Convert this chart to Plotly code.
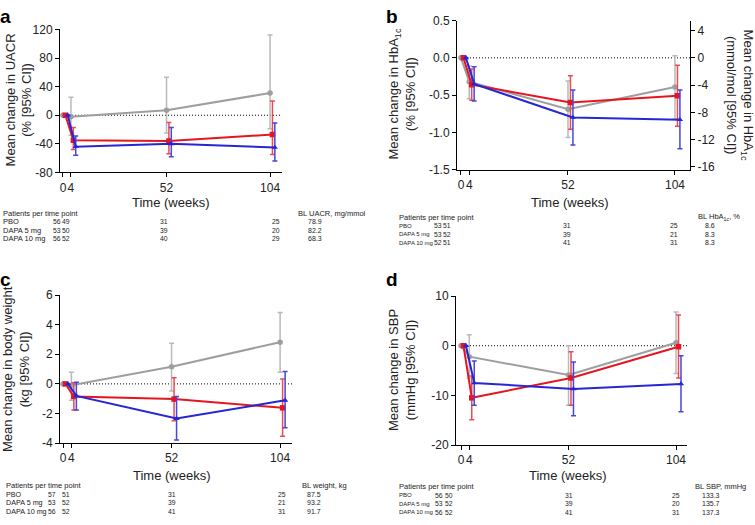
import plotly.graph_objects as go

W, H = 755, 525
FONT = "Liberation Sans, Arial, sans-serif"

weeks = [0, 4, 52, 104]
tick_labels = ["0", "4", "52", "104"]
group_names = ["PBO", "DAPA 5 mg", "DAPA 10 mg"]

# ---- Panel a: UACR (% change) ----
uacr_pbo = [0, -2, 7, 31]
uacr_pbo_lo = [None, -28, -25, -19]
uacr_pbo_hi = [None, 25, 53, 112]
uacr_d5 = [0, -35, -36, -27]
uacr_d5_lo = [None, -48, -54, -55]
uacr_d5_hi = [None, -17, -10, 20]
uacr_d10 = [0, -44, -40, -45]
uacr_d10_lo = [None, -56, -58, -64]
uacr_d10_hi = [None, -29, -17, -11]

# ---- Panel b: HbA1c (%) ----
hba_pbo = [0, -0.32, -0.69, -0.39]
hba_pbo_lo = [None, -0.55, -1.07, -0.82]
hba_pbo_hi = [None, -0.11, -0.31, 0.03]
hba_d5 = [0, -0.36, -0.60, -0.51]
hba_d5_lo = [None, -0.57, -0.96, -0.92]
hba_d5_hi = [None, -0.15, -0.24, -0.10]
hba_d10 = [0, -0.35, -0.80, -0.83]
hba_d10_lo = [None, -0.58, -1.17, -1.22]
hba_d10_hi = [None, -0.12, -0.43, -0.43]
mmol_per_pct = 10.93
mmol_ticks = [-16, -12, -8, -4, 0, 4]

# ---- Panel c: body weight (kg) ----
bw_pbo = [0, -0.09, 1.16, 2.82]
bw_pbo_lo = [None, -1.1, -0.48, 0.79]
bw_pbo_hi = [None, 0.79, 2.75, 4.83]
bw_d5 = [0, -0.85, -1.03, -1.62]
bw_d5_lo = [None, -1.77, -2.49, -3.54]
bw_d5_hi = [None, 0.07, 0.41, 0.33]
bw_d10 = [0, -0.81, -2.34, -1.11]
bw_d10_lo = [None, -1.77, -3.8, -2.97]
bw_d10_hi = [None, 0.11, -0.85, 0.83]

# ---- Panel d: SBP (mmHg) ----
sbp_pbo = [0, -2.2, -5.9, 0.6]
sbp_pbo_lo = [None, -6.5, -12.0, -5.6]
sbp_pbo_hi = [None, 2.2, 0.0, 6.8]
sbp_d5 = [0, -10.5, -6.5, -0.2]
sbp_d5_lo = [None, -14.9, -12.0, -6.5]
sbp_d5_hi = [None, -6.1, -1.2, 6.2]
sbp_d10 = [0, -7.5, -8.7, -7.7]
sbp_d10_lo = [None, -12.0, -14.1, -13.3]
sbp_d10_hi = [None, -3.1, -3.3, -2.0]

# ---- Patients per time point tables ----
n_uacr_pbo = [56, 49, 31, 25]
n_uacr_d5 = [53, 50, 39, 20]
n_uacr_d10 = [56, 52, 40, 29]
bl_uacr = ["78.9", "82.2", "68.3"]

n_hba_pbo = [53, 51, 31, 25]
n_hba_d5 = [53, 52, 39, 21]
n_hba_d10 = [52, 51, 41, 31]
bl_hba = ["8.6", "8.3", "8.3"]

n_bw_pbo = [57, 51, 31, 25]
n_bw_d5 = [53, 52, 39, 21]
n_bw_d10 = [56, 52, 41, 31]
bl_bw = ["87.5", "93.2", "91.7"]

n_sbp_pbo = [56, 50, 31, 25]
n_sbp_d5 = [53, 52, 39, 20]
n_sbp_d10 = [56, 52, 41, 31]
bl_sbp = ["133.3", "135.7", "137.3"]

# ---- styles ----
styles = {
    "PBO": dict(color="rgb(158,158,158)", err="rgb(185,185,185)", symbol="circle", off=0.0),
    "DAPA 5 mg": dict(color="rgb(230,22,32)", err="rgb(236,75,85)", symbol="square", off=1.2),
    "DAPA 10 mg": dict(color="rgb(38,38,212)", err="rgb(70,70,222)", symbol="triangle-up", off=2.4),
}


def px_x(p):
    return p / W


def px_y(p):
    return 1 - p / H


fig = go.Figure()


def add_series(name, mean, lo, hi, xa, ya):
    s = styles[name]
    up = [None if h is None else h - m for m, h in zip(mean, hi)]
    dn = [None if l is None else m - l for m, l in zip(mean, lo)]
    fig.add_trace(go.Scatter(
        x=[w + s["off"] for w in weeks], y=mean, name=name, xaxis=xa, yaxis=ya,
        mode="lines+markers", showlegend=False,
        line=dict(color=s["color"], width=2),
        marker=dict(color=s["color"], symbol=s["symbol"], size=5.5),
        error_y=dict(type="data", array=up, arrayminus=dn, symmetric=False,
                     color=s["err"], thickness=1.5, width=2.5),
    ))


panels = [
    ("x", "y", [(uacr_pbo, uacr_pbo_lo, uacr_pbo_hi), (uacr_d5, uacr_d5_lo, uacr_d5_hi), (uacr_d10, uacr_d10_lo, uacr_d10_hi)]),
    ("x2", "y2", [(hba_pbo, hba_pbo_lo, hba_pbo_hi), (hba_d5, hba_d5_lo, hba_d5_hi), (hba_d10, hba_d10_lo, hba_d10_hi)]),
    ("x3", "y3", [(bw_pbo, bw_pbo_lo, bw_pbo_hi), (bw_d5, bw_d5_lo, bw_d5_hi), (bw_d10, bw_d10_lo, bw_d10_hi)]),
    ("x4", "y4", [(sbp_pbo, sbp_pbo_lo, sbp_pbo_hi), (sbp_d5, sbp_d5_lo, sbp_d5_hi), (sbp_d10, sbp_d10_lo, sbp_d10_hi)]),
]

for xa, ya, ser in panels:
    for name, (m, lo, hi) in zip(group_names, ser):
        add_series(name, m, lo, hi, xa, ya)

# invisible trace so the mmol/mol secondary axis is drawn (same data, converted units)
fig.add_trace(go.Scatter(x=weeks, y=[v * mmol_per_pct for v in hba_pbo], xaxis="x2", yaxis="y5",
                         mode="markers", marker=dict(opacity=0), hoverinfo="skip",
                         showlegend=False))

axis_common = dict(showline=True, linecolor="black", linewidth=1, ticks="outside",
                   ticklen=4, tickwidth=1, tickcolor="black", showgrid=False,
                   zeroline=False, tickfont=dict(family=FONT, size=12, color="#222"),
                   fixedrange=True, tickangle=0)

# pixel geometry of the four panels: (x_left, x_right, y_top, y_bottom, xrange, yrange, yticks)
geo = {
    "a": (60, 282, 23, 170, [-1.5, 110], [-80, 120], [-80, -40, 0, 40, 80, 120]),
    "b": (457, 690, 14, 167, [-1.94, 111.3], [-1.5, 0.5], [-1.5, -1.0, -0.5, 0.0, 0.5]),
    "c": (60, 292, 296, 448, [-1.44, 109.7], [-4, 6], [-4, -2, 0, 2, 4, 6]),
    "d": (456, 687, 297, 450, [-2.42, 109.3], [-20, 10], [-20, -10, 0, 10]),
}
names = {"a": ("xaxis", "yaxis", "x", "y"), "b": ("xaxis2", "yaxis2", "x2", "y2"),
         "c": ("xaxis3", "yaxis3", "x3", "y3"), "d": ("xaxis4", "yaxis4", "x4", "y4")}

layout_axes = {}
shapes = []
for k, (xl, xr, yt, yb, xr_, yr_, yt_vals) in geo.items():
    xn, yn, xref, yref = names[k]
    layout_axes[xn] = dict(axis_common, domain=[px_x(xl), px_x(xr)], range=xr_,
                           tickvals=weeks, ticktext=tick_labels, anchor=yref)
    ytext = [f"{v:.1f}" for v in yt_vals] if k == "b" else [str(v) for v in yt_vals]
    layout_axes[yn] = dict(axis_common, domain=[px_y(yb), px_y(yt)], range=yr_,
                           tickvals=yt_vals, ticktext=ytext, anchor=xref)
    shapes.append(dict(type="line", xref=xref, yref=yref, x0=0, x1=xr_[1], y0=0, y1=0,
                       line=dict(color="black", width=1, dash="1px,2px"), layer="below"))

# right axis for HbA1c in mmol/mol
layout_axes["yaxis5"] = dict(axis_common, overlaying="y2", side="right", anchor="x2",
                             range=[-1.5 * mmol_per_pct, 0.5 * mmol_per_pct],
                             tickvals=mmol_ticks, ticktext=[str(v) for v in mmol_ticks])

ann = []


def text(x, y, s, size=8, xanchor="left", angle=0, bold=False):
    ann.append(dict(x=px_x(x), y=px_y(y), xref="paper", yref="paper", text=s,
                    showarrow=False, xanchor=xanchor, yanchor="middle", textangle=angle,
                    borderpad=0, borderwidth=0,
                    font=dict(family=FONT, size=size, color="black" if bold else "#222")))


# panel letters
text(0, 10, "<b>a</b>", 19, bold=True)
text(386, 10, "<b>b</b>", 19, bold=True)
text(0, 280, "<b>c</b>", 19, bold=True)
text(386, 280, "<b>d</b>", 19, bold=True)

# axis titles
text(171, 201, "Time (weeks)", 13, "center")
text(570, 201, "Time (weeks)", 13, "center")
text(172, 481, "Time (weeks)", 13, "center")
text(568, 481, "Time (weeks)", 13, "center")
text(19, 96, "Mean change in UACR<br>(% [95% CI])", 13, "center", -90)
text(402, 90, "Mean change in HbA<sub>1c</sub><br>(% [95% CI])", 13, "center", -90)
text(740, 90, "Mean change in HbA<sub>1c</sub><br>(mmol/mol [95% CI])", 13, "center", 90)
text(16, 372, "Mean change in body weight<br>(kg [95% CI])", 13, "center", -90)
text(402, 373, "Mean change in SBP<br>(mmHg [95% CI])", 13, "center", -90)


def table(name_x, name_size, cols, bl_x, bl_vx, y0, dy, header, rows, bl_vals):
    text(name_x, y0, "Patients per time point", 7.5)
    text(bl_x, y0, header, 7.5)
    for i, (gname, counts) in enumerate(zip(group_names, rows)):
        yy = y0 + dy * (i + 1)
        text(name_x, yy, gname, name_size)
        for cx, n in zip(cols, counts):
            text(cx, yy, str(n), 6.8)
        text(bl_vx, yy, bl_vals[i], 7)


table(3, 7.5, [53, 62, 160, 272], 298, 308, 212, 8.7, "BL UACR, mg/mmol",
      [n_uacr_pbo, n_uacr_d5, n_uacr_d10], bl_uacr)
table(399, 6.0, [434, 443, 563, 670], 698, 705, 216, 8.8, "BL HbA<sub>1c</sub>, %",
      [n_hba_pbo, n_hba_d5, n_hba_d10], bl_hba)
table(6, 7.2, [48, 62, 168, 278], 302, 307, 492, 8.7, "BL weight, kg",
      [n_bw_pbo, n_bw_d5, n_bw_d10], bl_bw)
table(399, 6.0, [435, 445, 565, 672], 695, 702, 493, 8.7, "BL SBP, mmHg",
      [n_sbp_pbo, n_sbp_d5, n_sbp_d10], bl_sbp)

fig.update_layout(width=W, height=H, margin=dict(l=0, r=0, t=0, b=0),
                  paper_bgcolor="white", plot_bgcolor="white", showlegend=False,
                  annotations=ann, shapes=shapes, **layout_axes)

fig.write_html("out.html", config={"displayModeBar": False},
               post_script="document.body.style.margin='0';document.body.style.overflow='hidden';")
